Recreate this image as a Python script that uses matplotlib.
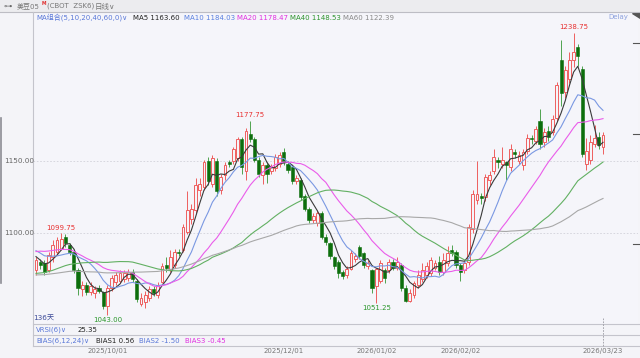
import matplotlib
matplotlib.use("Agg")
import matplotlib.pyplot as plt
import matplotlib.transforms as mtransforms
import numpy as np
import pandas as pd

# CJK 字符退回到 Noto Sans CJK
plt.rcParams['font.family'] = ['DejaVu Sans', 'Noto Sans CJK SC']

W, H = 640, 358

# 交易日：2025/09/08 - 2026/03/23，去掉美国假日
holidays = ['2025-11-27', '2025-12-25', '2026-01-01', '2026-01-19', '2026-02-16']
dates = pd.bdate_range('2025-09-08', '2026-03-23')
dates = dates[~dates.isin(pd.to_datetime(holidays))]

open_px = [1074, 1080, 1079, 1074, 1083, 1087, 1089, 1097, 1092, 1087,
           1074, 1061, 1064, 1059, 1058, 1062, 1059, 1049, 1062, 1066,
           1067, 1068, 1069, 1073, 1067, 1051, 1052, 1055, 1061, 1057,
           1066, 1078, 1075, 1078, 1087, 1088, 1101, 1110, 1116, 1130,
           1132, 1150, 1134, 1150, 1130, 1140, 1149, 1150, 1152, 1165,
           1143, 1169, 1165, 1151, 1140, 1147, 1143, 1145, 1148, 1156,
           1148, 1146, 1136, 1137, 1126, 1117, 1109, 1107, 1114, 1097,
           1093, 1083, 1080, 1073, 1071, 1075, 1082, 1090, 1086, 1077,
           1074, 1063, 1067, 1074, 1074, 1080, 1076, 1078, 1062, 1053,
           1057, 1064, 1068, 1071, 1072, 1076, 1080, 1073, 1079, 1088,
           1087, 1078, 1074, 1080, 1103, 1123, 1126, 1125, 1137, 1143,
           1151, 1148, 1149, 1146, 1156, 1150, 1147, 1157, 1166, 1164,
           1178, 1163, 1171, 1170, 1180, 1220, 1198, 1207, 1220, 1229,
           1214, 1148, 1151, 1162, 1167, 1160]
high_px = [1083, 1082, 1081, 1087, 1095, 1097, 1099.75, 1099, 1093, 1089,
           1076, 1067, 1066, 1066, 1063, 1064, 1060, 1064, 1071, 1073,
           1074, 1074, 1075, 1075, 1068, 1058, 1060, 1063, 1063, 1066,
           1079, 1083, 1088, 1089, 1089, 1106, 1129, 1120, 1138, 1138,
           1151, 1153, 1154, 1152, 1141, 1149, 1151, 1160, 1167, 1167,
           1173, 1177.75, 1167, 1153, 1149, 1149, 1148, 1155, 1156, 1159,
           1150, 1147, 1140, 1138, 1127, 1118, 1114, 1116, 1115, 1099,
           1094, 1084, 1081, 1074, 1077, 1088, 1086, 1092, 1087, 1081,
           1075, 1076, 1081, 1076, 1082, 1082, 1083, 1079, 1064, 1061,
           1067, 1074, 1079, 1080, 1083, 1081, 1084, 1086, 1091, 1092,
           1088, 1079, 1081, 1106, 1130, 1150, 1128, 1141, 1143, 1158,
           1153, 1160, 1150, 1162, 1158, 1157, 1158, 1169, 1168, 1174,
           1186, 1173, 1174, 1182, 1205, 1234, 1216, 1226, 1238.75, 1231,
           1216, 1166, 1168, 1175, 1170, 1170]
low_px = [1071, 1075, 1071, 1073, 1080, 1085, 1088, 1090, 1085, 1072,
          1057, 1056, 1057, 1057, 1055, 1058, 1047, 1043, 1060, 1064,
          1065, 1066, 1067, 1066, 1052, 1049, 1048, 1053, 1056, 1055,
          1065, 1073, 1073, 1076, 1084, 1087, 1099, 1106, 1114, 1126,
          1130, 1133, 1132, 1126, 1127, 1137, 1146, 1148, 1150, 1141,
          1137, 1163, 1149, 1139, 1134, 1135, 1141, 1143, 1146, 1147,
          1142, 1134, 1134, 1123, 1115, 1107, 1107, 1105, 1096, 1092,
          1082, 1075, 1069, 1068, 1069, 1074, 1080, 1082, 1076, 1075,
          1058, 1051.25, 1065, 1065, 1072, 1074, 1074, 1060, 1052, 1052,
          1055, 1062, 1066, 1069, 1070, 1074, 1071, 1071, 1077, 1084,
          1076, 1067, 1072, 1078, 1100, 1120, 1120, 1122, 1133, 1141,
          1145, 1145, 1137, 1143, 1152, 1148, 1144, 1155, 1162, 1162,
          1158, 1160, 1164, 1168, 1178, 1188, 1194, 1204, 1215, 1216,
          1153, 1144, 1148, 1160, 1158, 1155]
close_px = [1081, 1078, 1073, 1085, 1092, 1095, 1096, 1093, 1087, 1074,
            1062, 1064, 1059, 1063, 1061, 1060, 1049, 1062, 1069, 1071,
            1072, 1072, 1073, 1068, 1054, 1055, 1057, 1061, 1058, 1064,
            1077, 1076, 1083, 1087, 1086, 1104, 1116, 1117, 1133, 1134,
            1149, 1136, 1152, 1129, 1139, 1147, 1148, 1158, 1165, 1146,
            1171, 1165, 1151, 1141, 1147, 1141, 1146, 1153, 1154, 1149,
            1144, 1136, 1138, 1125, 1117, 1109, 1112, 1114, 1097, 1094,
            1084, 1077, 1072, 1070, 1075, 1086, 1084, 1084, 1078, 1079,
            1062, 1075, 1079, 1069, 1080, 1076, 1080, 1062, 1053, 1058,
            1065, 1071, 1074, 1077, 1081, 1079, 1073, 1081, 1086, 1086,
            1078, 1073, 1079, 1104, 1127, 1127, 1124, 1139, 1140, 1153,
            1149, 1151, 1147, 1158, 1155, 1154, 1156, 1166, 1165, 1172,
            1162, 1170, 1167, 1179, 1203, 1197, 1213, 1220, 1226, 1223,
            1155, 1157, 1163, 1166, 1161, 1168]

# 窗口之前的收盘价（估计），让均线从左边就有值
prior_close = [1072, 1068, 1065, 1070, 1074, 1071, 1066, 1063, 1067, 1070,
               1073, 1069, 1066, 1064, 1068, 1072, 1070, 1067, 1069, 1071,
               1066, 1062, 1058, 1055, 1052, 1050, 1053, 1056, 1054, 1051,
               1049, 1052, 1055, 1058, 1056, 1059, 1061, 1060, 1063, 1066,
               1072, 1076, 1080, 1084, 1087, 1090, 1093, 1091, 1095, 1097,
               1094, 1092, 1089, 1091, 1093, 1090, 1086, 1082, 1079]

ma_periods = [5, 10, 20, 40, 60]
ma_colors = ['#3a3a3a', '#7a98e2', '#ea5cea', '#62b062', '#a8a8a8']
ma_text_colors = ['#222222', '#5a80e0', '#e030e0', '#2e942e', '#888888']
ma_last = ['1163.60', '1184.03', '1178.47', '1148.53', '1122.39']

tick_dates = ['2025/10/01', '2025/12/01', '2026/01/02', '2026/02/02', '2026/03/23']
peak_idx = [6, 51, 128]     # 标注最高价
trough_idx = [17, 81]       # 标注最低价

RED = '#ee5f5f'
DKGREEN = '#0c6e0c'
GWICK = '#4fa34f'
BG = '#f5f5fa'


def fx(px):
    return px / W


def fy(py):
    return 1 - py / H


fig = plt.figure(figsize=(6.4, 3.58), dpi=100)
fig.patch.set_facecolor('#f4f4f8')

# 主图：像素 x 33..638, y 12..324 ; 每根K线 4.2px
ax = fig.add_axes([fx(33), fy(324), fx(638) - fx(33), fy(12) - fy(324)])
ax.set_facecolor(BG)
ax.set_xlim(-0.714, 143.33)
ax.set_ylim(1036.8, 1253.5)
for s in ax.spines.values():
    s.set_visible(False)
ax.set_xticks([])
ax.set_yticks([])

x = np.arange(len(close_px))
o = np.array(open_px, float)
h = np.array(high_px, float)
l = np.array(low_px, float)
c = np.array(close_px, float)
up = c >= o

# 网格虚线
for lvl in (1150, 1100):
    ax.axhline(lvl, color='#d2d2da', lw=0.6, ls=(0, (2, 2)), zorder=0)

# 影线
ax.vlines(x[up], l[up], h[up], color=RED, lw=0.7, zorder=2)
ax.vlines(x[~up], l[~up], h[~up], color=GWICK, lw=0.7, zorder=2)

# 实体
body_lo = np.minimum(o, c)
body_h = np.maximum(np.abs(c - o), 0.7)
ax.bar(x[up], body_h[up], bottom=body_lo[up], width=0.68,
       facecolor=BG, edgecolor=RED, linewidth=0.7, zorder=3)
ax.bar(x[~up], body_h[~up], bottom=body_lo[~up], width=0.72,
       facecolor=DKGREEN, edgecolor=DKGREEN, linewidth=0.4, zorder=3)

# 均线
full = pd.Series(prior_close + close_px, dtype=float)
for n, col in zip(ma_periods, ma_colors):
    ma = full.rolling(n).mean().iloc[len(prior_close):].values
    ax.plot(x, ma, color=col, lw=0.8, zorder=4)

# 高低点标注
for i in peak_idx:
    ax.annotate('%.2f' % high_px[i], (i, high_px[i]), xytext=(0, 2),
                textcoords='offset points', ha='center', va='bottom',
                fontsize=5, color='#e83030', zorder=5)
for i in trough_idx:
    ax.annotate('%.2f' % low_px[i], (i, low_px[i]), xytext=(0, -1.5),
                textcoords='offset points', ha='center', va='top',
                fontsize=5, color='#2a962a', zorder=5)


# ---- 边框和附图区 ----
def hline(y, x0, x1, color='#c4c4cc', lw=0.8, ls='-'):
    fig.add_artist(plt.Line2D([fx(x0), fx(x1)], [fy(y), fy(y)], color=color, lw=lw, ls=ls))


def vline(xp, y0, y1, color='#c4c4cc', lw=0.8, ls='-'):
    fig.add_artist(plt.Line2D([fx(xp), fx(xp)], [fy(y0), fy(y1)], color=color, lw=lw, ls=ls))


# 顶部工具栏
fig.add_artist(plt.Rectangle((0, fy(12)), 1, 12 / H, transform=fig.transFigure,
                             facecolor='#ececef', edgecolor='none'))
hline(12, 0, 640, color='#bdbdc4')
vline(33, 12, 346)
hline(324, 33, 640)
hline(335, 33, 640)
hline(346, 33, 640)
vline(603, 318, 346, color='#9a9aa2', lw=0.6, ls=(0, (2, 1.5)))
vline(0.7, 118, 283, color='#8c8c94', lw=1.2)
for yy in (43, 134, 244):
    hline(yy, 633, 640, color='#555555', lw=0.8)
fig.add_artist(plt.Polygon([[fx(632), fy(12.5)], [fx(640), fy(12.5)], [fx(640), fy(18)]],
                           closed=True, transform=fig.transFigure, color='#555555'))

# 工具栏文字
fig.text(fx(3), fy(6), '⊶', fontsize=6, color='#666666', va='center')
fig.text(fx(17), fy(6), '美豆05', fontsize=5, color='#777777', va='center')
fig.text(fx(41.5), fy(3.5), 'M', fontsize=3.3, color='#e03030', va='center', weight='bold')
fig.text(fx(47), fy(6), '(CBOT  ZSK6)', fontsize=5, color='#777777', va='center')
fig.text(fx(95), fy(6), '日线∨', fontsize=5.4, color='#777777', va='center')

# 均线图例
fig.text(fx(36), fy(17.5), 'MA组合(5,10,20,40,60,0)∨', fontsize=5, color='#5a78d8', va='center')
leg_x = [133, 184, 237, 290, 343]
for px, n, tcol, val in zip(leg_x, ma_periods, ma_text_colors, ma_last):
    fig.text(fx(px), fy(17.5), 'MA%d %s' % (n, val), fontsize=5, color=tcol, va='center')
fig.text(fx(608), fy(17.5), 'Delay', fontsize=5, color='#8ea2de', va='center')

# 左侧价格刻度
for lvl, py in ((1150, 161), (1100, 233)):
    fig.text(fx(4), fy(py), '%.2f' % lvl, fontsize=5.2, color='#666666', va='center')

# 附图文字
fig.text(fx(33.5), fy(319), '136天', fontsize=5.2, color='#3c4a98', va='center')
fig.text(fx(36), fy(330), 'VRSI(6)∨', fontsize=5, color='#5a78d8', va='center')
fig.text(fx(78), fy(330), '25.35', fontsize=5, color='#222222', va='center')
fig.text(fx(36), fy(341), 'BIAS(6,12,24)∨', fontsize=5, color='#5a78d8', va='center')
fig.text(fx(96), fy(341), 'BIAS1 0.56', fontsize=5, color='#222222', va='center')
fig.text(fx(139), fy(341), 'BIAS2 -1.50', fontsize=5, color='#5a78d8', va='center')
fig.text(fx(185), fy(341), 'BIAS3 -0.45', fontsize=5, color='#e030e0', va='center')

# 日期刻度
trans = mtransforms.blended_transform_factory(ax.transData, fig.transFigure)
date_str = list(dates.strftime('%Y/%m/%d'))
for d in tick_dates:
    i = date_str.index(d)
    fig.text(i, fy(351.5), d, transform=trans, fontsize=5, color='#777777',
             ha='center', va='center')

fig.savefig('out.png', dpi=100, facecolor=fig.get_facecolor())
